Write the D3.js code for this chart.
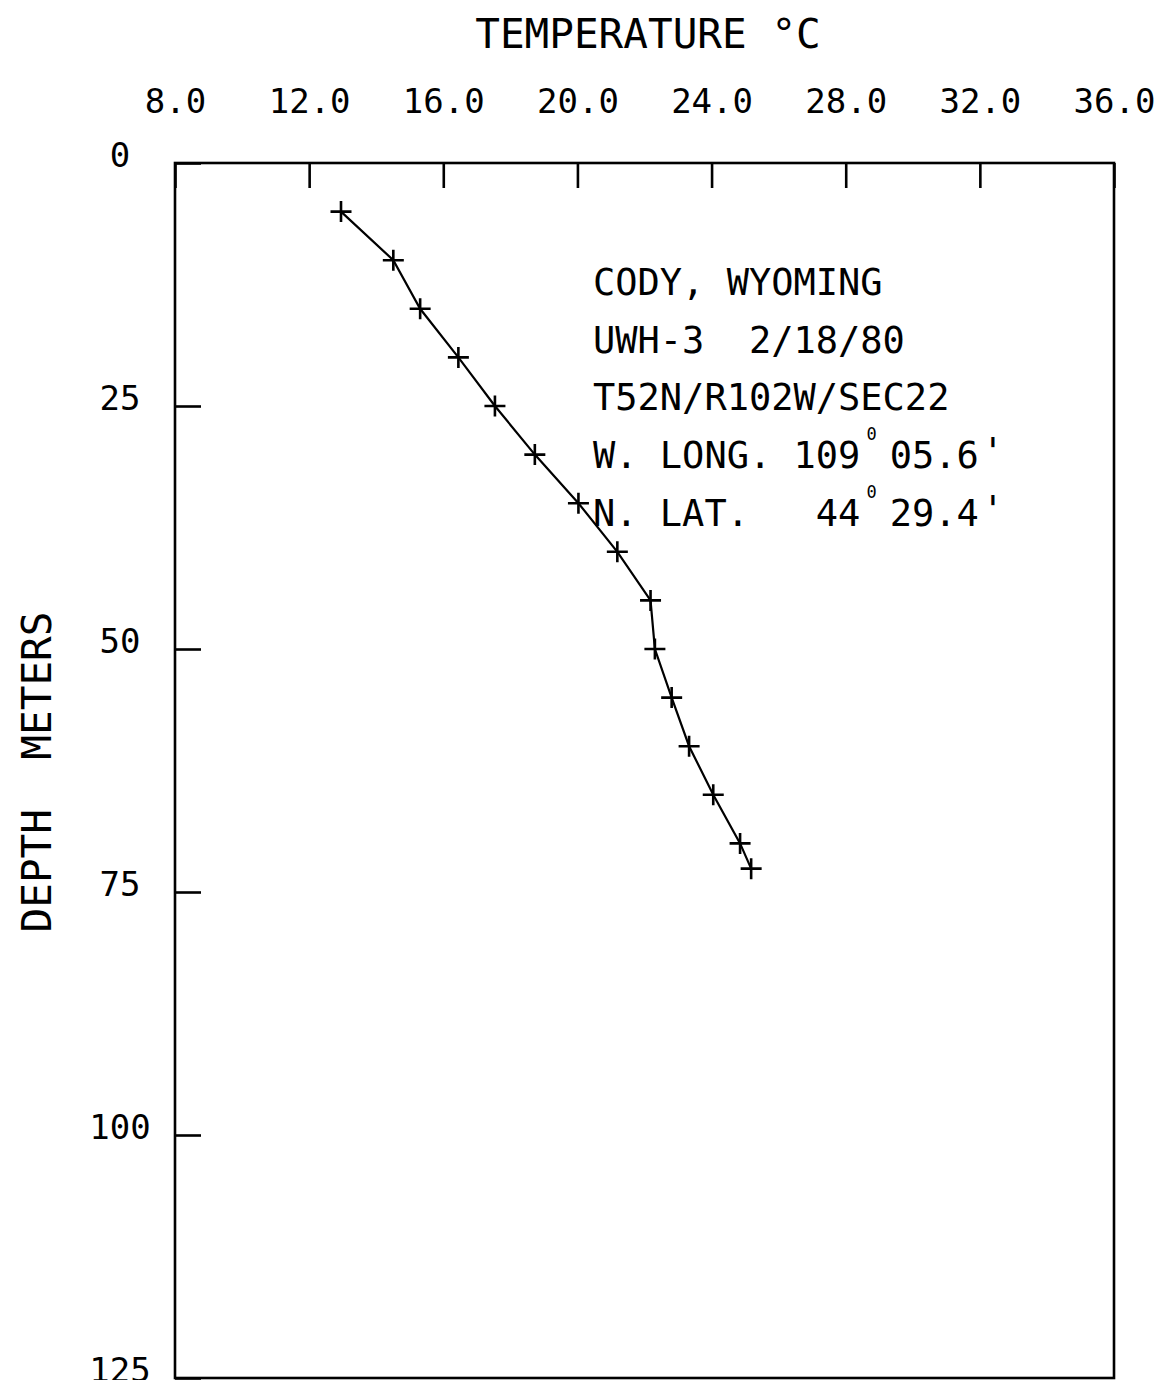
<!DOCTYPE html>
<html>
<head>
<meta charset="utf-8">
<script src="https://cdn.jsdelivr.net/npm/d3@7"></script>
<style>
	body { margin: 0; background: #fff; }
	svg { display: block; }
	text { font-family: "DejaVu Sans Mono", monospace; fill: #000; }
</style>
</head>
<body>
<svg id="chart"></svg>
<script>
// Temperature log
var temperature = [12.95, 14.51, 15.31, 16.45, 17.54, 18.73, 20.03, 21.19, 22.18, 22.31, 22.81, 23.33, 24.05, 24.85, 25.18];
var depth = [5, 10, 15, 20, 25, 30, 35, 40, 45, 50, 55, 60, 65, 70, 72.6];

var tempTicks = [8, 12, 16, 20, 24, 28, 32, 36];
var depthTicks = [0, 25, 50, 75, 100, 125];

var infoLines = ['CODY, WYOMING', 'UWH-3  2/18/80', 'T52N/R102W/SEC22'];
var coordLabels = ['W. LONG. 109', 'N. LAT.   44'];
var coordMinutes = ['05.6', '29.4'];

var width = 1154, height = 1380;
var plot = {left: 175, right: 1114, top: 163, bottom: 1378};

var svg = d3.select('#chart')
	.attr('width', width)
	.attr('height', height);

var x = d3.scaleLinear().domain([8, 36]).range([plot.left, plot.right]);
var y = d3.scaleLinear().domain([0, 125]).range([plot.top, plot.bottom]);

// Frame
svg.append('rect')
	.attr('x', plot.left)
	.attr('y', plot.top)
	.attr('width', plot.right - plot.left)
	.attr('height', plot.bottom - plot.top)
	.attr('fill', 'none')
	.attr('stroke', '#000')
	.attr('stroke-width', 2.6);

// Axes (ticks point inward)
var gx = svg.append('g')
	.attr('transform', 'translate(0,' + plot.top + ')')
	.call(d3.axisTop(x)
		.tickValues(tempTicks)
		.tickSizeInner(-25)
		.tickSizeOuter(0)
		.tickPadding(50)
		.tickFormat(d3.format('.1f')));

var gy = svg.append('g')
	.attr('transform', 'translate(' + plot.left + ',0)')
	.call(d3.axisLeft(y)
		.tickValues(depthTicks)
		.tickSizeInner(-26)
		.tickSizeOuter(0)
		.tickFormat(d3.format('d')));

[gx, gy].forEach(function(g) {
	g.select('.domain').remove();
	g.selectAll('.tick line').attr('stroke', '#000').attr('stroke-width', 2.6);
	g.selectAll('.tick text')
		.attr('fill', '#000')
		.style('font-family', '"DejaVu Sans Mono", monospace')
		.style('font-size', '34px');
});

gy.selectAll('.tick text')
	.attr('text-anchor', 'middle')
	.attr('x', -55)
	.attr('y', 3)
	.attr('dy', 0);

// Axis titles
svg.append('text')
	.attr('x', 648)
	.attr('y', 48)
	.attr('text-anchor', 'middle')
	.style('font-size', '41px')
	.text('TEMPERATURE \u00B0C');

svg.append('text')
	.attr('transform', 'translate(51,772) rotate(-90)')
	.attr('text-anchor', 'middle')
	.attr('xml:space', 'preserve')
	.style('font-size', '41px')
	.style('white-space', 'pre')
	.text('DEPTH  METERS');

// Profile line
var points = temperature.map(function(t, i) { return {t: t, d: depth[i]}; });

svg.append('path')
	.datum(points)
	.attr('fill', 'none')
	.attr('stroke', '#000')
	.attr('stroke-width', 2.2)
	.attr('d', d3.line()
		.x(function(p) { return x(p.t); })
		.y(function(p) { return y(p.d); }));

// Plus markers
var arm = 10.5;
svg.append('g').selectAll('path')
	.data(points)
	.enter().append('path')
	.attr('fill', 'none')
	.attr('stroke', '#000')
	.attr('stroke-width', 2.6)
	.attr('d', function(p) {
		var cx = x(p.t), cy = y(p.d);
		return 'M' + (cx - arm) + ',' + cy + 'H' + (cx + arm) +
			'M' + cx + ',' + (cy - arm) + 'V' + (cy + arm);
	});

// Site information
var x0 = 593, cw = 22.28, lineGap = 57.7, base0 = 295;
var info = svg.append('g').style('font-size', '37px');

infoLines.forEach(function(s, i) {
	info.append('text')
		.attr('x', x0)
		.attr('y', base0 + i * lineGap)
		.attr('xml:space', 'preserve')
		.style('white-space', 'pre')
		.text(s);
});

coordLabels.forEach(function(s, i) {
	var by = base0 + (i + 3) * lineGap;
	info.append('text')
		.attr('x', x0)
		.attr('y', by)
		.attr('xml:space', 'preserve')
		.style('white-space', 'pre')
		.text(s);
	info.append('text')
		.attr('x', x0 + 12.5 * cw)
		.attr('y', by - 28)
		.attr('text-anchor', 'middle')
		.style('font-size', '17px')
		.text('0');
	info.append('text')
		.attr('x', x0 + 13 * cw + 7)
		.attr('y', by)
		.text(coordMinutes[i]);
	info.append('text')
		.attr('x', 993)
		.attr('y', by - 4)
		.attr('text-anchor', 'middle')
		.text('\'');
});
</script>
</body>
</html>
